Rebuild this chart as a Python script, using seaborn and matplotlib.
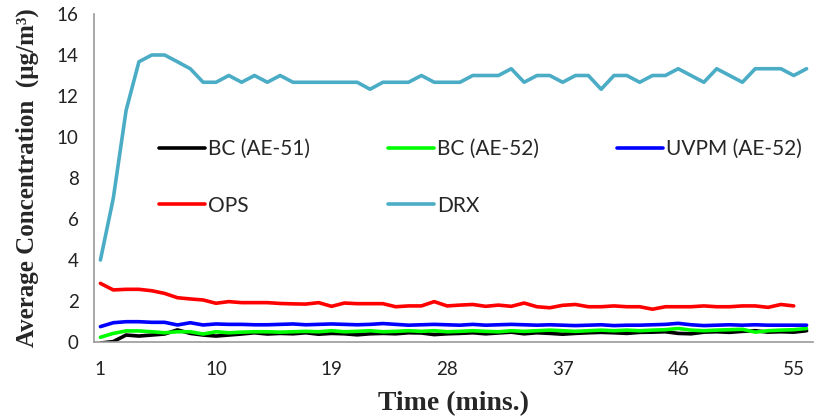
import numpy as np
import pandas as pd
import matplotlib
matplotlib.use("Agg")
import matplotlib.pyplot as plt
from matplotlib.ticker import MultipleLocator, FixedLocator
import seaborn as sns

minutes = list(range(1, 57))

bc_ae51 = [-0.05, 0.02, 0.34, 0.29, 0.34, 0.39, 0.59, 0.42, 0.34, 0.29,
           0.34, 0.39, 0.45, 0.39, 0.42, 0.40, 0.45, 0.38, 0.42, 0.40,
           0.35, 0.40, 0.42, 0.40, 0.45, 0.44, 0.36, 0.40, 0.42, 0.45,
           0.40, 0.44, 0.48, 0.40, 0.45, 0.42, 0.38, 0.42, 0.45, 0.47,
           0.45, 0.42, 0.47, 0.48, 0.50, 0.42, 0.40, 0.48, 0.50, 0.47,
           0.52, 0.55, 0.48, 0.50, 0.48, 0.55]
bc_ae52 = [0.23, 0.42, 0.54, 0.54, 0.50, 0.45, 0.50, 0.50, 0.39, 0.50,
           0.45, 0.48, 0.50, 0.50, 0.48, 0.50, 0.52, 0.50, 0.55, 0.50,
           0.52, 0.55, 0.50, 0.52, 0.55, 0.52, 0.55, 0.50, 0.52, 0.55,
           0.52, 0.50, 0.55, 0.52, 0.55, 0.58, 0.55, 0.52, 0.55, 0.58,
           0.55, 0.58, 0.55, 0.58, 0.60, 0.66, 0.58, 0.55, 0.58, 0.60,
           0.62, 0.48, 0.55, 0.58, 0.60, 0.66]
uvpm_ae52 = [0.75, 0.94, 0.99, 0.99, 0.96, 0.96, 0.83, 0.94, 0.83, 0.88,
             0.86, 0.86, 0.84, 0.84, 0.86, 0.88, 0.84, 0.86, 0.88, 0.86,
             0.84, 0.86, 0.90, 0.86, 0.82, 0.84, 0.86, 0.84, 0.82, 0.86,
             0.82, 0.84, 0.86, 0.84, 0.82, 0.84, 0.82, 0.80, 0.82, 0.84,
             0.80, 0.82, 0.82, 0.84, 0.86, 0.91, 0.84, 0.80, 0.82, 0.84,
             0.82, 0.84, 0.82, 0.82, 0.82, 0.82]
ops = [2.86, 2.54, 2.57, 2.57, 2.50, 2.37, 2.16, 2.10, 2.05, 1.89,
       1.97, 1.92, 1.92, 1.92, 1.88, 1.86, 1.85, 1.92, 1.74, 1.90,
       1.87, 1.87, 1.87, 1.72, 1.76, 1.76, 1.97, 1.76, 1.80, 1.83,
       1.74, 1.80, 1.74, 1.90, 1.72, 1.67, 1.79, 1.83, 1.72, 1.72,
       1.76, 1.72, 1.72, 1.60, 1.72, 1.72, 1.72, 1.76, 1.72, 1.72,
       1.76, 1.76, 1.69, 1.83, 1.76, np.nan]
drx = [4.0, 7.0, 11.3, 13.67, 14.0, 14.0, 13.67, 13.33, 12.67, 12.67,
       13.0, 12.67, 13.0, 12.67, 13.0, 12.67, 12.67, 12.67, 12.67, 12.67,
       12.67, 12.33, 12.67, 12.67, 12.67, 13.0, 12.67, 12.67, 12.67, 13.0,
       13.0, 13.0, 13.33, 12.67, 13.0, 13.0, 12.67, 13.0, 13.0, 12.33,
       13.0, 13.0, 12.67, 13.0, 13.0, 13.33, 13.0, 12.67, 13.33, 13.0,
       12.67, 13.33, 13.33, 13.33, 13.0, 13.33]

series_names = ["BC (AE-51)", "BC (AE-52)", "UVPM (AE-52)", "OPS", "DRX"]
series_values = [bc_ae51, bc_ae52, uvpm_ae52, ops, drx]
colors = ["#000000", "#00FF00", "#0000FF", "#FF0000", "#4BACC6"]
xtick_labels = [1, 10, 19, 28, 37, 46, 55]

frames = []
for name, vals in zip(series_names, series_values):
    frames.append(pd.DataFrame({"Time": minutes, "Value": vals, "Series": name}))
df = pd.concat(frames, ignore_index=True)

sns.set_style("white")
plt.rcParams["font.family"] = ["Lato", "DejaVu Sans"]

fig = plt.figure(figsize=(8.17, 4.20), dpi=100)
ax = fig.add_axes([94 / 817, 1 - 342 / 420, (813 - 94) / 817, (342 - 14) / 420])

sns.lineplot(data=df, x="Time", y="Value", hue="Series", hue_order=series_names,
             palette=dict(zip(series_names, colors)), linewidth=2.6, ax=ax,
             legend=True)

ax.set_xlim(0.5, 56.5)
ax.set_ylim(0, 16)
ax.yaxis.set_major_locator(MultipleLocator(2))
ax.xaxis.set_major_locator(FixedLocator(xtick_labels))
ax.xaxis.set_minor_locator(FixedLocator(np.arange(0.5, 57, 1)))
ax.tick_params(axis="x", which="major", length=0, labelsize=13.5, pad=14, colors="#222222")
ax.tick_params(axis="x", which="minor", length=5, width=1, color="#999999", direction="out")
ax.tick_params(axis="y", which="major", length=5, width=1, color="#999999", direction="out",
               labelsize=13.5, labelcolor="#222222", pad=6)

for s in ["top", "right"]:
    ax.spines[s].set_visible(False)
for s in ["left", "bottom"]:
    ax.spines[s].set_color("#999999")
    ax.spines[s].set_linewidth(1.2)

ax.set_xlabel("Time (mins.)", family=["Liberation Serif"], fontweight="bold", fontsize=20, labelpad=9)
ax.set_ylabel("Average Concentration  (µg/m³)", family=["Liberation Serif"], fontweight="bold",
              fontsize=18, labelpad=13)

handles, labels = ax.get_legend_handles_labels()
lookup = dict(zip(labels, handles))
order = ["BC (AE-51)", "OPS", "BC (AE-52)", "DRX", "UVPM (AE-52)"]
ax.legend([lookup[k] for k in order], order, ncol=3, frameon=False, loc="upper left",
          bbox_to_anchor=(0.076, 0.65), fontsize=15, handlelength=2.2,
          handletextpad=0.15, columnspacing=3.75, labelspacing=1.75, borderpad=0)

fig.savefig("out.png", dpi=100)
